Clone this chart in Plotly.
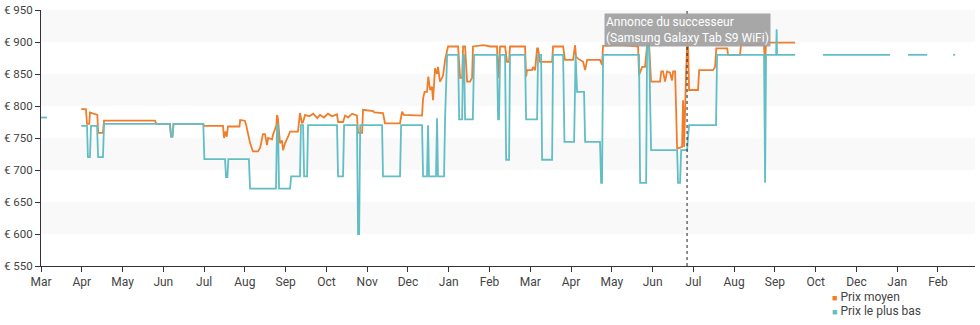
import plotly.graph_objects as go

# ---- Data (x = days since the start of the chart) ----
mois_labels = ["Mar", "Apr", "May", "Jun", "Jul", "Aug", "Sep", "Oct", "Nov", "Dec", "Jan", "Feb",
               "Mar", "Apr", "May", "Jun", "Jul", "Aug", "Sep", "Oct", "Dec", "Jan", "Feb"]
mois_jours = [0, 30.4, 60.8, 91.2, 121.6, 152, 182.4, 212.8, 243.2, 273.6, 304, 334.4,
              364.8, 395.2, 425.6, 456, 486.4, 516.8, 547.2, 577.6, 608, 638.4, 668.8]

prix_ticks = [550, 600, 650, 700, 750, 800, 850, 900, 950]
prix_labels = ["€ 550", "€ 600", "€ 650", "€ 700", "€ 750", "€ 800", "€ 850", "€ 900", "€ 950"]

moyen_pts = [
    (30, 795), (33.5, 795), (34.3, 772), (36, 772), (36.5, 790), (40, 788), (42, 786), (42.6, 758),
    (46.2, 758), (47, 777), (85, 777), (86, 772), (96, 772), (97, 752), (98, 752), (98.8, 772),
    (121, 772), (121.5, 769), (135.7, 769), (136.5, 750), (137.5, 760), (138.5, 752), (139.4, 768),
    (148, 768), (148.5, 778), (152, 777), (153, 770), (155.9, 742), (158, 729), (161.8, 729),
    (163.3, 734), (165.5, 756), (167, 756), (168.5, 739), (169.3, 750), (172.3, 748), (173, 755),
    (175.5, 770), (176, 786), (176.7, 780), (178.2, 742), (179.7, 746), (180.5, 731), (182, 742),
    (183.4, 747), (184.2, 752), (185.7, 760), (191.6, 760), (193.1, 789), (194.6, 773), (195.4, 775),
    (196.9, 786), (200, 784), (203, 788), (206, 781), (208, 786), (211, 782), (214, 788), (217, 784),
    (220.7, 787), (221.5, 775), (225.2, 775), (226.7, 785), (229, 782), (232, 788), (235.6, 785),
    (236.4, 758), (239.4, 758), (240.1, 794), (247.6, 792), (248.5, 790), (255, 789), (256.5, 773),
    (267.7, 773), (269.2, 791), (270.5, 786), (284.1, 785), (284.9, 812), (286, 822), (287.8, 822),
    (288.8, 846), (290.1, 825), (291.5, 830), (292.3, 809), (293.8, 859), (295.3, 850), (296, 861),
    (297.5, 838), (299, 844), (299.8, 848), (301.3, 872), (302.8, 888), (303.5, 893), (311, 893),
    (312.5, 844), (314, 844), (314.7, 893), (316.2, 893), (317.7, 838), (319.9, 838), (321.4, 844),
    (322.1, 893), (330, 895), (335, 893), (340, 893), (340.8, 844), (342.3, 893), (346, 893),
    (347.5, 869), (349, 869), (349.7, 893), (360.9, 893), (361.7, 846), (362.4, 856), (366.1, 856),
    (366.9, 861), (368.4, 856), (369.9, 890), (370.6, 890), (372.1, 869), (381.1, 869), (381.8, 893),
    (389.3, 893), (390.7, 872), (396.7, 872), (398.2, 895), (398.9, 877), (400.4, 874), (404.2, 869),
    (405.7, 856), (407.2, 872), (416.8, 872), (418.3, 864), (419.1, 894), (430, 895), (440, 894),
    (445.2, 893), (445.9, 848), (448.2, 861), (450.4, 861), (451.9, 895), (453.4, 895), (454.9, 838),
    (461.6, 838), (462.5, 854), (463.8, 854), (465.3, 838), (466.8, 854), (469, 852), (470.5, 840),
    (471.3, 854), (472.8, 854), (474.3, 734), (475, 734), (478, 736), (478.7, 809), (479.5, 736),
    (481, 854), (481.7, 893), (482.5, 893), (483.2, 825), (489.9, 825), (490.7, 856), (501.1, 856),
    (502.6, 861), (503.5, 890), (511.6, 890), (512.3, 880), (521.2, 880), (522, 896), (530, 895),
    (535, 897), (539, 896), (539.9, 866), (540.6, 899), (562.3, 899),
]

bas_pts = [
    (0, 782), (4.5, 782), (None, None),
    (30, 769), (34.3, 769), (35, 720), (36.5, 720), (37.3, 769), (41.8, 769), (42.6, 720), (46.2, 720),
    (47, 772), (96.2, 772), (97, 752), (98, 752), (98.8, 772), (121, 772), (121.8, 717), (137.2, 717),
    (138, 689), (139, 689), (139.7, 717), (155, 717), (155.9, 671), (175.2, 671), (176, 770),
    (176.7, 770), (177.5, 671), (185.7, 671), (186.5, 690), (193.1, 690), (193.8, 770), (195.4, 770),
    (196.2, 690), (198.4, 690), (199.1, 770), (220.7, 770), (221.5, 690), (225.2, 690), (226, 770),
    (235.6, 770), (236.4, 600), (237.2, 600), (238, 770), (254.3, 770), (255, 690), (267.7, 690),
    (268.5, 770), (284.1, 770), (284.9, 690), (287.8, 690), (288.6, 770), (289.3, 690), (294.5, 690),
    (295.3, 781), (296, 690), (300.5, 690), (301.3, 781), (302.8, 880), (311, 880), (311.8, 779),
    (314, 779), (314.7, 880), (315.4, 880), (316.2, 779), (322, 779), (322.9, 880), (340, 880),
    (340.8, 779), (341.5, 779), (342.3, 880), (346, 880), (346.8, 716), (349, 716), (349.7, 880),
    (360.9, 880), (361.7, 779), (369.9, 779), (370.6, 880), (372.9, 880), (373.6, 716), (381.1, 716),
    (381.8, 880), (389.3, 880), (390.3, 744), (397.5, 744), (398.2, 880), (398.6, 880), (399.7, 822),
    (404.9, 822), (405.7, 744), (416.8, 744), (417.6, 680), (418.3, 680), (419.1, 880), (445.9, 880),
    (446.7, 680), (451.2, 680), (451.9, 893), (453.4, 893), (454.9, 731), (474.3, 731), (475, 680),
    (476.5, 680), (477.3, 731), (481.7, 731), (483.2, 770), (503.3, 770), (504.1, 880), (539.1, 880),
    (539.9, 680), (540.6, 880), (548.1, 880), (548.5, 920), (548.8, 880), (562.3, 880), (None, None),
    (583.1, 880), (633.1, 880), (None, None),
    (646.5, 880), (660.7, 880), (None, None),
    (680.1, 880), (681.6, 880),
]

jours_moyen = [p[0] for p in moyen_pts]
prix_moyen = [p[1] for p in moyen_pts]
jours_bas = [p[0] for p in bas_pts]
prix_bas = [p[1] for p in bas_pts]

nom_moyen = "Prix moyen"
nom_bas = "Prix le plus bas"
jour_successeur = 481.7
texte_successeur = "Annonce du successeur<br>(Samsung Galaxy Tab S9 WiFi)"

# ---- Styles ----
ORANGE = "#f07d2a"
TEAL = "#62bec5"
FONT = "Roboto"
TXT = "#444444"

fig = go.Figure()
fig.add_trace(go.Scatter(x=jours_moyen, y=prix_moyen, mode="lines", name=nom_moyen,
                         line=dict(color=ORANGE, width=1.8), connectgaps=False, showlegend=False,
                         hoverinfo="skip"))
fig.add_trace(go.Scatter(x=jours_bas, y=prix_bas, mode="lines", name=nom_bas,
                         line=dict(color=TEAL, width=1.8), connectgaps=False, showlegend=False,
                         hoverinfo="skip"))

shapes = []
for lo, hi in [(600, 650), (700, 750), (800, 850), (900, 950)]:
    shapes.append(dict(type="rect", xref="paper", yref="y", x0=0, x1=1, y0=lo, y1=hi,
                       fillcolor="#f9f9f9", line=dict(width=0), layer="below"))
shapes.append(dict(type="line", xref="x", yref="paper", x0=jour_successeur, x1=jour_successeur,
                   y0=0, y1=1, line=dict(color="#222222", width=1, dash="dot")))

annotations = [
    dict(x=jour_successeur, xref="x", y=1, yref="paper", yanchor="top", xanchor="center",
         yshift=-3, text=texte_successeur, showarrow=False, align="left",
         font=dict(family=FONT, size=12, color="white"),
         bgcolor="rgba(160,160,160,0.92)", borderpad=1),
    dict(x=(830 - 41) / 934, xref="paper", y=(266 - 297) / 256, yref="paper",
         xanchor="left", yanchor="middle", showarrow=False, align="left",
         text=f'<span style="color:{ORANGE};font-size:9px">■</span> {nom_moyen}',
         font=dict(family=FONT, size=12, color=TXT)),
    dict(x=(830 - 41) / 934, xref="paper", y=(266 - 311) / 256, yref="paper",
         xanchor="left", yanchor="middle", showarrow=False, align="left",
         text=f'<span style="color:{TEAL};font-size:9px">■</span> {nom_bas}',
         font=dict(family=FONT, size=12, color=TXT)),
]

fig.update_layout(
    width=980, height=325,
    margin=dict(l=41, r=5, t=10, b=59),
    paper_bgcolor="white", plot_bgcolor="white",
    font=dict(family=FONT, size=12, color=TXT),
    shapes=shapes, annotations=annotations,
    showlegend=False,
    xaxis=dict(range=[0, 696.4], tickmode="array", tickvals=mois_jours, ticktext=mois_labels,
               automargin=False,
               showgrid=False, zeroline=False, showline=True, linecolor="#333333", linewidth=1,
               ticks="outside", ticklen=5, tickcolor="#333333", tickfont=dict(size=12, color=TXT)),
    yaxis=dict(range=[550, 950], tickmode="array", tickvals=prix_ticks, ticktext=prix_labels,
               automargin=False,
               showgrid=False, zeroline=False, showline=True, linecolor="#333333", linewidth=1,
               ticks="outside", ticklen=5, tickcolor="#333333", tickfont=dict(size=11.5, color=TXT)),
)

fig.write_html("out.html")
